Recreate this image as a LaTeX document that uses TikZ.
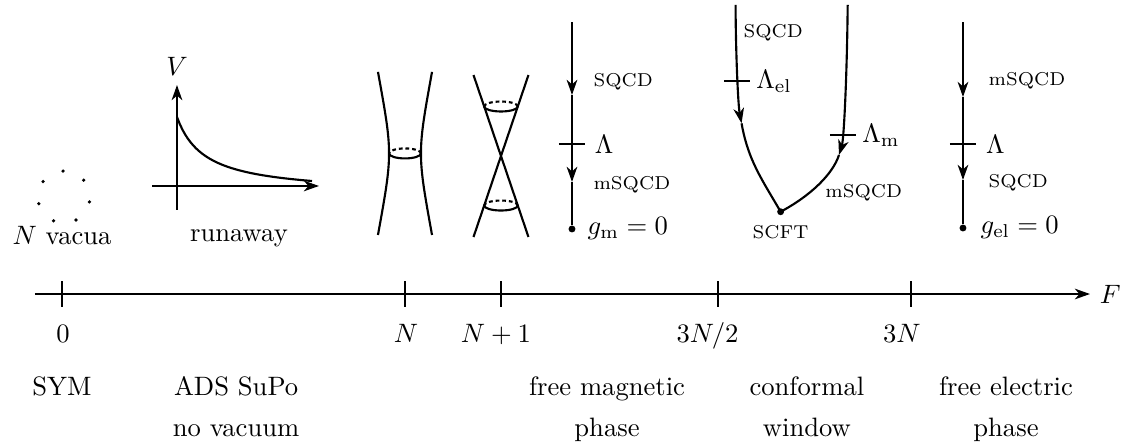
\documentclass[tikz,border=0pt]{standalone}
\usetikzlibrary{arrows.meta}

\tikzset{
  fixpt/.style={circle, fill, inner sep=0pt, minimum size=2.6pt},
  rglabel/.style={font=\scriptsize},
  hidden/.style={thick, dash pattern=on 1.4pt off 1.1pt},
}

\begin{document}
\begin{tikzpicture}[>={Stealth[length=2mm,width=1.4mm,inset=0.6mm]}]
    \useasboundingbox (-0.819,-1.968) rectangle (14.082,3.884);

    % the F axis
    \coordinate (axL) at (-0.357,0);
    \coordinate (axR) at (13.58,0);
    \draw[thick,->] (axL) -- (axR) node[right] (F) {\(F\)};
    \foreach \x in {0,4.531,5.799,8.666,11.215}
        \draw (\x,0.17) -- (\x,-0.17);

    \node[anchor=base] (t0) at (0.013,-0.647) {\(0\)};
    \node[anchor=base] (tN) at (4.544,-0.647) {\(N\)};
    \node[anchor=base] (tN1) at (5.733,-0.647) {\(N+1\)};
    \node[anchor=base] (tN32) at (8.527,-0.647) {\(3N/2\)};
    \node[anchor=base] (tN3) at (11.096,-0.647) {\(3N\)};

    \node[anchor=base] (sym) at (0,-1.347) {SYM};
    \node[anchor=base] (adsA) at (2.30,-1.347) {ADS SuPo};
    \node[anchor=base] (adsB) at (2.30,-1.876) {no vacuum};
    \node[anchor=base] (magphA) at (7.20,-1.347) {free magnetic};
    \node[anchor=base] (magphB) at (7.20,-1.876) {phase};
    \node[anchor=base] (cwphA) at (9.84,-1.347) {conformal};
    \node[anchor=base] (cwphB) at (9.84,-1.876) {window};
    \node[anchor=base] (elphA) at (12.47,-1.347) {free electric};
    \node[anchor=base] (elphB) at (12.47,-1.876) {phase};

    % N vacua
    \begin{scope}[shift={(0.026,1.281)}]
        \foreach \k in {0,...,6}
            \fill ({92+\k*360/7}:0.343) circle (0.024);
    \end{scope}
    \node[anchor=base] (vacua) at (0,0.66) {\(N\) vacua};

    % runaway potential
    \begin{scope}[shift={(1.519,1.427)}]
        \draw[thick,->] (0,-0.317) -- (0,1.334) node[above] (V) {\(V\)};
        \draw[thick,->] (-0.330,0) -- (1.876,0);
        \draw[thick] plot[domain=0:1.784, samples=50] (\x,{0.3759/(\x+0.3687)-0.1086});
    \end{scope}
    \node[anchor=base] (run) at (2.338,0.69) {runaway};

    % F = N
    \begin{scope}[shift={(4.531,1.857)}]
        \draw[thick] (-0.357,1.077) .. controls (-0.162,0) .. (-0.357,-1.077);
        \draw[thick] (0.357,1.077) .. controls (0.162,0) .. (0.357,-1.077);
        \draw[thick] (-0.211,0) arc (180:360:0.211 and 0.066);
        \draw[hidden] (0.211,0) arc (0:180:0.211 and 0.066);
    \end{scope}

    % F = N+1
    \begin{scope}[shift={(5.799,1.823)}]
        \draw[thick] (-0.363,1.07) -- (0.363,-1.07);
        \draw[thick] (0.363,1.07) -- (-0.363,-1.07);
        \foreach \y in {0.654,-0.654} {
            \draw[thick] (-0.222,\y) arc (180:360:0.222 and 0.066);
            \draw[hidden] (0.222,\y) arc (0:180:0.222 and 0.066);
        }
    \end{scope}

    % free magnetic
    \coordinate (magUV) at (6.737,3.593);
    \coordinate (magAr1) at (6.737,2.629);
    \coordinate (magAr2) at (6.737,1.480);
    \node[fixpt] (magIR) at (6.737,0.859) {};
    \draw[thick,->] (magUV) -- (magAr1);
    \draw[thick,->] (magAr1) -- (magAr2);
    \draw[thick] (magAr2) -- (magIR);
    \draw[thick] (6.565,1.982) -- (6.909,1.982) node[right] (magL) {\(\Lambda\)};
    \node[rglabel, anchor=west] (magA) at (6.897,2.801) {SQCD};
    \node[rglabel, anchor=west] (magB) at (6.897,1.440) {mSQCD};
    \node[anchor=west] (gm) at (6.82,0.859) {\(g_{\mathrm{m}}=0\)};

    % conformal window
    \node[fixpt] (scft) at (9.493,1.087) {};
    \coordinate (cwUVel) at (8.898,3.818);
    \coordinate (cwArel) at (8.977,2.255);
    \coordinate (cwUVm) at (10.379,3.818);
    \coordinate (cwArm) at (10.264,1.836);
    \draw[thick,->] (cwUVel) .. controls (8.90,3.2) and (8.93,2.5) .. (cwArel);
    \draw[thick] (cwArel) .. controls (9.064,1.763) and (9.243,1.520) .. (scft.center);
    \draw[thick,->] (cwUVm) .. controls (10.37,2.9) and (10.33,2.05) .. (cwArm);
    \draw[thick] (cwArm) .. controls (10.184,1.586) and (9.890,1.298) .. (scft.center);
    \draw[thick] (8.745,2.814) -- (9.089,2.814) node[right, inner sep=2pt] (Lel) {\(\Lambda_{\mathrm{el}}\)};
    \draw[thick] (10.145,2.100) -- (10.489,2.100) node[right, inner sep=2pt] (Lm) {\(\Lambda_{\mathrm{m}}\)};
    \node[rglabel, anchor=west] (cwA) at (8.88,3.448) {SQCD};
    \node[rglabel, anchor=west] (cwB) at (9.96,1.334) {mSQCD};
    \node[rglabel, below] (cwC) at (scft.south) {SCFT};

    % free electric
    \coordinate (elUV) at (11.902,3.593);
    \coordinate (elAr1) at (11.902,2.602);
    \coordinate (elAr2) at (11.902,1.506);
    \node[fixpt] (elIR) at (11.902,0.872) {};
    \draw[thick,->] (elUV) -- (elAr1);
    \draw[thick,->] (elAr1) -- (elAr2);
    \draw[thick] (elAr2) -- (elIR);
    \draw[thick] (11.730,1.982) -- (12.077,1.982) node[right] (elL) {\(\Lambda\)};
    \node[rglabel, anchor=west] (elA) at (12.115,2.814) {mSQCD};
    \node[rglabel, anchor=west] (elB) at (12.115,1.466) {SQCD};
    \node[anchor=west] (gel) at (12.01,0.872) {\(g_{\mathrm{el}}=0\)};
\end{tikzpicture}
\end{document}
